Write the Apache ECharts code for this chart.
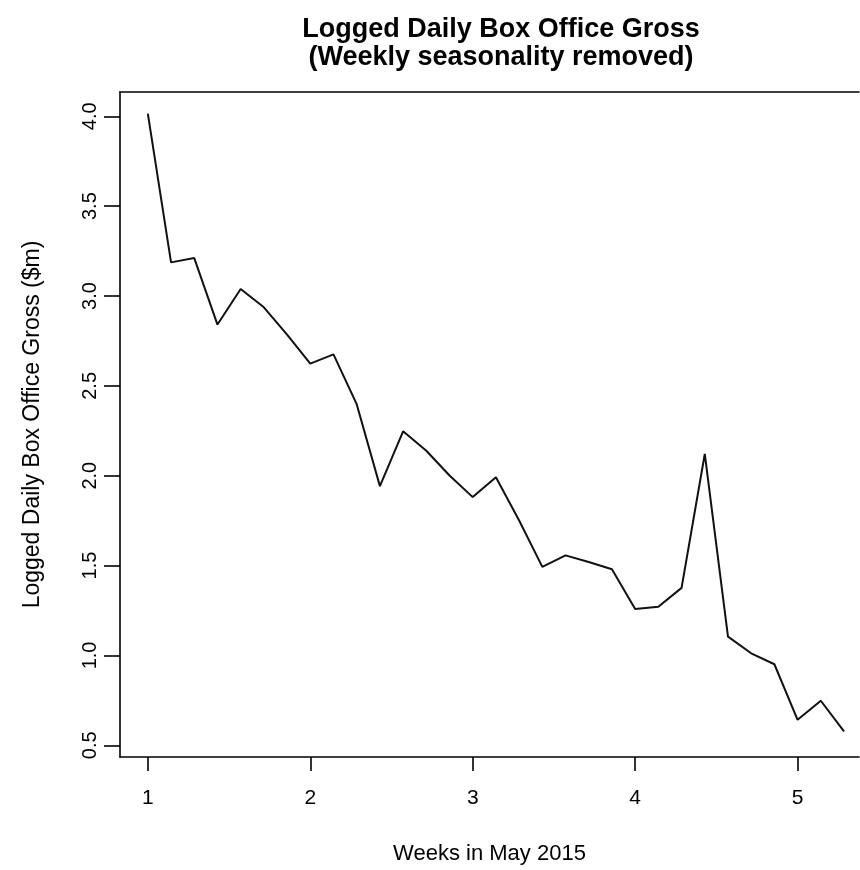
<!DOCTYPE html>
<html>
<head>
<meta charset="utf-8">
<script src="https://cdn.jsdelivr.net/npm/echarts@6/dist/echarts.min.js"></script>
<style>
html,body{margin:0;padding:0;background:#fff;}
#chart{width:860px;height:870px;}
</style>
</head>
<body>
<div id="chart"></div>
<script>
// Day index within May 2015 (0 = May 1); x position in weeks = 1 + day/7
const days = [0,1,2,3,4,5,6,7,8,9,10,11,12,13,14,15,16,17,18,19,20,21,22,23,24,25,26,27,28,29,30];
const values = [4.015,3.187,3.211,2.841,3.039,2.937,2.785,2.624,2.675,2.398,1.942,2.247,2.139,2.001,1.881,1.992,1.751,1.493,1.557,1.520,1.480,1.258,1.271,1.376,2.121,1.105,1.012,0.951,0.642,0.748,0.578];
const xTicks = [1,2,3,4,5];
const yTicks = [0.5,1.0,1.5,2.0,2.5,3.0,3.5,4.0];

const font = '"Liberation Sans", Arial, Helvetica, sans-serif';
const data = days.map((d,i)=>[1 + d/7, values[i]]);

const XMIN = 0.8286, XMAX = 5.378, YMIN = 0.435, YMAX = 4.135;

const chart = echarts.init(document.getElementById('chart'), null, {renderer:'canvas'});
chart.setOption({
  backgroundColor:'#ffffff',
  animation:false,
  title:{
    text:'Logged Daily Box Office Gross\n(Weekly seasonality removed)',
    left:496, top:11, textAlign:'center',
    textStyle:{fontFamily:font, fontSize:27, fontWeight:'bold', color:'#000', lineHeight:28}
  },
  grid:{left:120, right:1, top:92, bottom:111, show:false},
  xAxis:[{
    type:'value', min:XMIN, max:XMAX, position:'bottom',
    name:'Weeks in May 2015', nameLocation:'middle', nameGap:86,
    nameTextStyle:{fontFamily:font, fontSize:22, color:'#000'},
    axisLine:{show:true, onZero:false, lineStyle:{color:'#000', width:1.6}},
    axisTick:{show:true, inside:false, length:14, customValues:xTicks, lineStyle:{color:'#000', width:1.6}},
    axisLabel:{customValues:xTicks, margin:31, fontFamily:font, fontSize:21, color:'#000', formatter:v=>String(v)},
    splitLine:{show:false}
  },{
    type:'value', min:XMIN, max:XMAX, position:'top',
    axisLine:{show:true, onZero:false, lineStyle:{color:'#000', width:1.6}},
    axisTick:{show:false}, axisLabel:{show:false}, splitLine:{show:false}
  }],
  yAxis:{
    type:'value', min:YMIN, max:YMAX,
    name:'Logged Daily Box Office Gross ($m)', nameLocation:'middle', nameGap:76,
    nameTextStyle:{fontFamily:font, fontSize:23, color:'#000'},
    axisLine:{show:true, onZero:false, lineStyle:{color:'#000', width:1.6}},
    axisTick:{show:true, inside:false, length:16, customValues:yTicks, lineStyle:{color:'#000', width:1.6}},
    axisLabel:{customValues:yTicks, margin:20, rotate:90, fontFamily:font, fontSize:20, color:'#000', formatter:v=>v.toFixed(1)},
    splitLine:{show:false}
  },
  series:[{
    type:'line', xAxisIndex:0, data:data, showSymbol:false, symbol:'none',
    lineStyle:{color:'#111', width:2}, smooth:false
  }]
});
</script>
</body>
</html>
